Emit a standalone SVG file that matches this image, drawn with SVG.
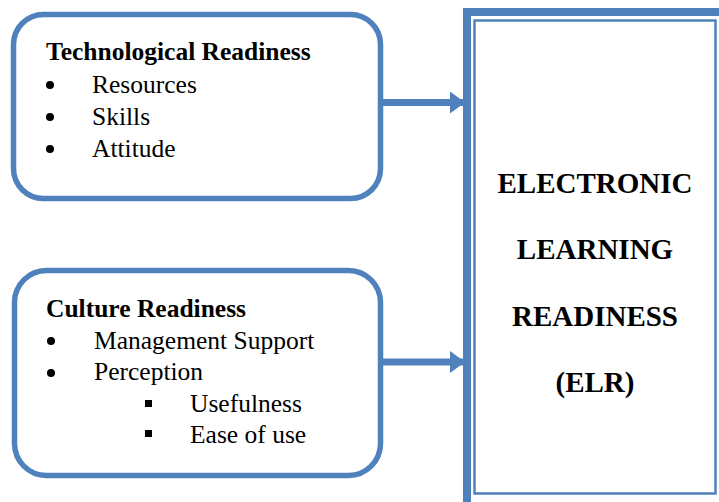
<svg xmlns="http://www.w3.org/2000/svg" width="719" height="502" viewBox="0 0 719 502">
<style>
.box{fill:#fff;stroke:#4f81bd;stroke-width:5.5}
.conn{stroke:#4f81bd;stroke-width:7;fill:none}
text{font-family:'Liberation Serif','Times New Roman',Tinos,'DejaVu Serif',serif;fill:#000}
.t{font-size:25.5px}
.b{font-weight:bold}
.big{font-size:29px;font-weight:bold;text-anchor:middle}
</style>
<defs>
<marker id="ah" markerUnits="userSpaceOnUse" markerWidth="16" markerHeight="22" refX="15" refY="11" orient="auto">
<path d="M0,0 L15,11 L0,22 Z" fill="#4f81bd"/>
</marker>
</defs>
<rect width="719" height="502" fill="#fff"/>
<g id="elr">
<rect x="467" y="12" width="260" height="500" fill="#fff" stroke="#4f81bd" stroke-width="8"/>
<rect x="474.5" y="20.5" width="241" height="473" fill="none" stroke="#4f81bd" stroke-width="2.5"/>
<text class="big" x="595" y="193" font-family="Liberation Serif, serif">ELECTRONIC</text>
<text class="big" x="595" y="259" font-family="Liberation Serif, serif">LEARNING</text>
<text class="big" x="595" y="326" font-family="Liberation Serif, serif">READINESS</text>
<text class="big" x="595" y="392" font-family="Liberation Serif, serif">(ELR)</text>
</g>
<g id="connectors">
<line class="conn" x1="383" y1="102.5" x2="465" y2="102.5" marker-end="url(#ah)"/>
<line class="conn" x1="383" y1="362" x2="465" y2="362" marker-end="url(#ah)"/>
</g>
<g id="tech">
<rect class="box" x="13.5" y="14.5" width="367" height="184" rx="30"/>
<text class="t b" x="46" y="60">Technological Readiness</text>
<circle cx="50" cy="85" r="4"/>
<text class="t" x="92" y="93">Resources</text>
<circle cx="50" cy="117" r="4"/>
<text class="t" x="92" y="124.5">Skills</text>
<circle cx="50" cy="149" r="4"/>
<text class="t" x="92" y="157">Attitude</text>
</g>
<g id="culture">
<rect class="box" x="14.5" y="270.5" width="366" height="205" rx="32"/>
<text class="t b" x="46" y="317">Culture Readiness</text>
<circle cx="51" cy="341" r="4"/>
<text class="t" x="94" y="349">Management Support</text>
<circle cx="51" cy="373" r="4"/>
<text class="t" x="94" y="380">Perception</text>
<rect x="145" y="400" width="7" height="7"/>
<text class="t" x="190" y="412">Usefulness</text>
<rect x="145" y="430" width="7" height="7"/>
<text class="t" x="190" y="443">Ease of use</text>
</g>
</svg>
